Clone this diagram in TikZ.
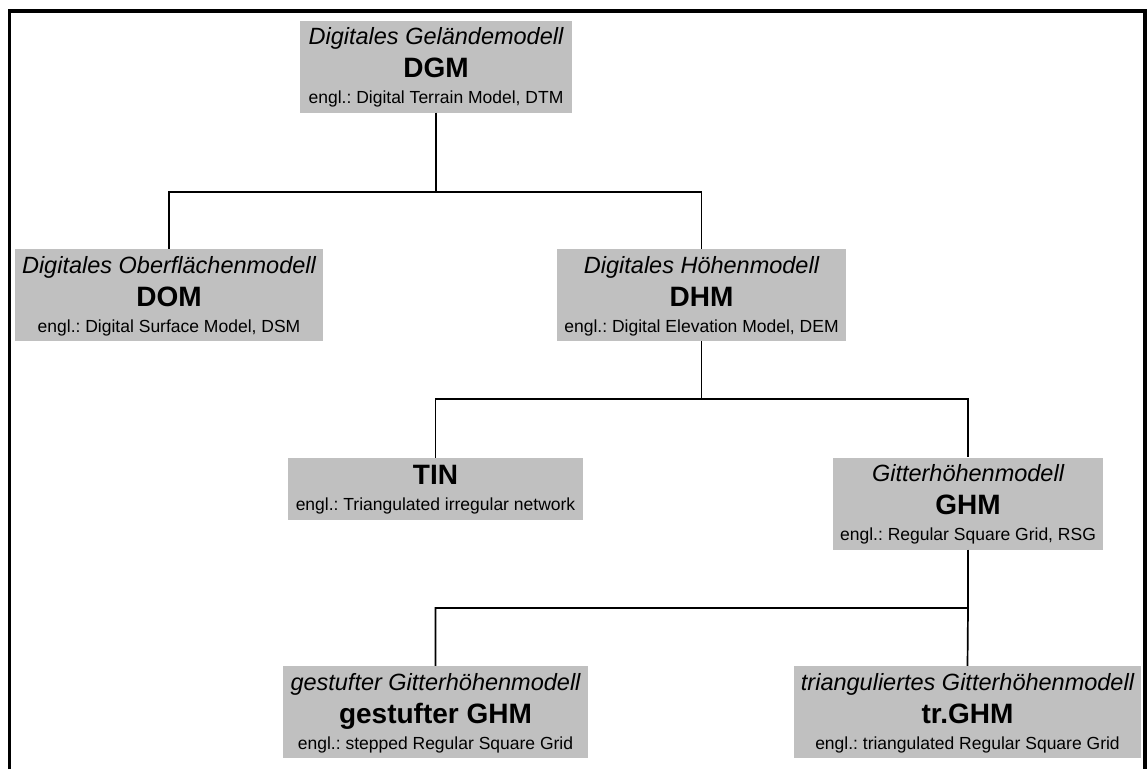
\documentclass[tikz,border=0pt]{standalone}
\usepackage{fontspec}
\setmainfont{Liberation Sans}
\frenchspacing
\definecolor{boxgray}{RGB}{192,192,192}
% line types inside the boxes
\newcommand{\ttl}[1]{{\fontsize{23.5}{28}\selectfont\itshape\rule[-8pt]{0pt}{32pt}#1}}
\newcommand{\abbr}[1]{{\fontsize{28}{32}\selectfont\bfseries\rule[-7pt]{0pt}{32pt}#1}}
\newcommand{\engl}[1]{{\fontsize{17.5}{21}\selectfont\rule[-9pt]{0pt}{28pt}#1}}
\tikzset{
  model/.style={fill=boxgray, inner sep=0pt, align=center, font=\offinterlineskip},
  branch/.style={line width=1.7pt}
}

\begin{document}
\begin{tikzpicture}[x=1pt, y=-1pt]
    \useasboundingbox (0,0) rectangle (1147,769);
    \draw[line width=3.2pt] (9.5,769) -- (9.5,11) -- (1145,11) -- (1145,769);

    \node[model, minimum width=272, minimum height=91] (dgm) at (436,66.5) {\ttl{Digitales Geländemodell}\\ \abbr{DGM}\\ \engl{engl.: Digital Terrain Model, DTM}};
    \node[model, minimum width=308, minimum height=92] (dom) at (169,295) {\ttl{Digitales Oberflächenmodell}\\ \abbr{DOM}\\ \engl{engl.: Digital Surface Model, DSM}};
    \node[model, minimum width=289, minimum height=92] (dhm) at (701.5,295) {\ttl{Digitales Höhenmodell}\\ \abbr{DHM}\\ \engl{engl.: Digital Elevation Model, DEM}};
    \node[model, minimum width=295, minimum height=62] (tin) at (435.5,489) {\abbr{TIN}\\ \engl{engl.: Triangulated irregular network}};
    \node[model, minimum width=270, minimum height=91] (ghm) at (968,503.5) {\ttl{Gitterhöhenmodell}\\ \abbr{GHM}\\ \engl{engl.: Regular Square Grid, RSG}};
    \node[model, minimum width=305, minimum height=90] (sghm) at (435.5,712) {\ttl{gestufter Gitterhöhenmodell}\\ \abbr{gestufter GHM}\\ \engl{engl.: stepped Regular Square Grid}};
    \node[model, minimum width=347, minimum height=90] (tghm) at (967.5,712) {\ttl{trianguliertes Gitterhöhenmodell}\\ \abbr{tr.GHM}\\ \engl{engl.: triangulated Regular Square Grid}};

    \coordinate (j1) at (436,192);
    \coordinate (j2) at (701.5,399);
    \coordinate (j3) at (968,608);

    \draw[branch] (dgm.south) -- (j1);
    \draw[branch] (dom.north) |- (j1) -| (dhm.north);
    \draw[branch] (dhm.south) -- (j2);
    \draw[branch] (tin.north) |- (j2) -| (ghm.north);
    \draw[branch] (ghm.south) -- (j3);
    \draw[branch] (sghm.north) |- (j3) -- (tghm.north);
\end{tikzpicture}
\end{document}
